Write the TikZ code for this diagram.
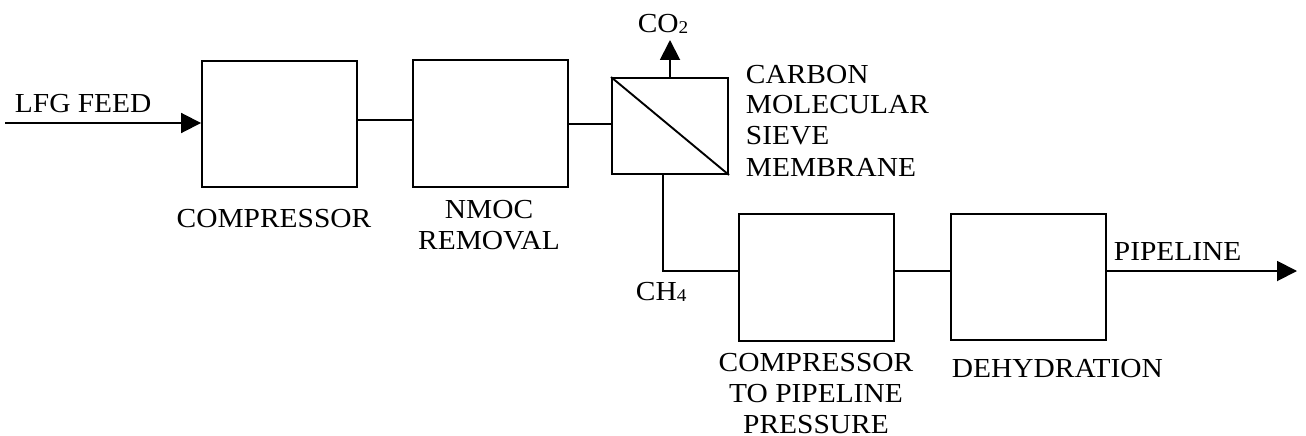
\documentclass[tikz,border=0pt]{standalone}
\usepackage{fontspec}
\setmainfont{Liberation Serif}[FakeStretch=1.07]
\usetikzlibrary{arrows.meta}
\begin{document}
\begin{tikzpicture}[x=1pt,y=-1pt,
  line width=1.9pt,
  unit/.style={draw, line width=1.9pt, minimum width=155pt, minimum height=126pt, inner sep=0pt},
  lbl/.style={font=\fontsize{27.5}{31}\selectfont, inner sep=0pt},
  flow/.style={-{Triangle[length=20pt,width=20pt]}}]
\useasboundingbox (0,0) rectangle (1306,436);
% boxes
\node[unit] (comp) at (279.5,124) {};
\node[unit, minimum height=127pt] (nmoc) at (490.5,123.5) {};
\node[draw, line width=1.9pt, minimum width=116pt, minimum height=96pt, inner sep=0pt] (mem) at (670,126) {};
\node[unit, minimum height=127pt] (cp) at (816.5,277.5) {};
\node[unit] (dehy) at (1028.5,277) {};
% free ends
\coordinate (feed) at (5,123);
\coordinate (co2tip) at (670,40);
\coordinate (pipe) at (1297,271);
\coordinate (bend) at (663,271);
% connectors
\draw[flow] (feed) -- (comp.west |- feed);
\draw (comp.east |- 0,120) -- (nmoc.west |- 0,120);
\draw (nmoc.east |- 0,124) -- (mem.west |- 0,124);
\draw (mem.north west) -- (mem.south east);
\draw[flow] (mem.north) -- (co2tip);
\draw (mem.south -| bend) -- (bend) -- (cp.west |- bend);
\draw (cp.east |- bend) -- (dehy.west |- bend);
\draw[flow] (dehy.east |- pipe) -- (pipe);
% labels
\node[lbl, anchor=base west] (tfeed) at (14,112) {LFG FEED};
\node[lbl, anchor=base] (tcomp) at (274,227) {COMPRESSOR};
\node[lbl, anchor=base] (tnmoc) at (489,218) {\begin{tabular}[t]{@{}c@{}}NMOC\\REMOVAL\end{tabular}};
\node[lbl, anchor=base] (tco2) at (663,33) {CO\raisebox{-1pt}{\fontsize{18}{18}\selectfont 2}};
\node[lbl, anchor=base west] (tmem) at (745,83) {\begin{tabular}[t]{@{}l@{}}CARBON\\MOLECULAR\\SIEVE\\MEMBRANE\end{tabular}};
\node[lbl, anchor=base west] (tch4) at (635,300) {CH\raisebox{-1pt}{\fontsize{18}{18}\selectfont 4}};
\node[lbl, anchor=base] (tcp) at (816,371) {\begin{tabular}[t]{@{}c@{}}COMPRESSOR\\TO PIPELINE\\PRESSURE\end{tabular}};
\node[lbl, anchor=base west] (tdehy) at (951,377) {DEHYDRATION};
\node[lbl, anchor=base west] (tpipe) at (1113,260) {PIPELINE};
\end{tikzpicture}
\end{document}
